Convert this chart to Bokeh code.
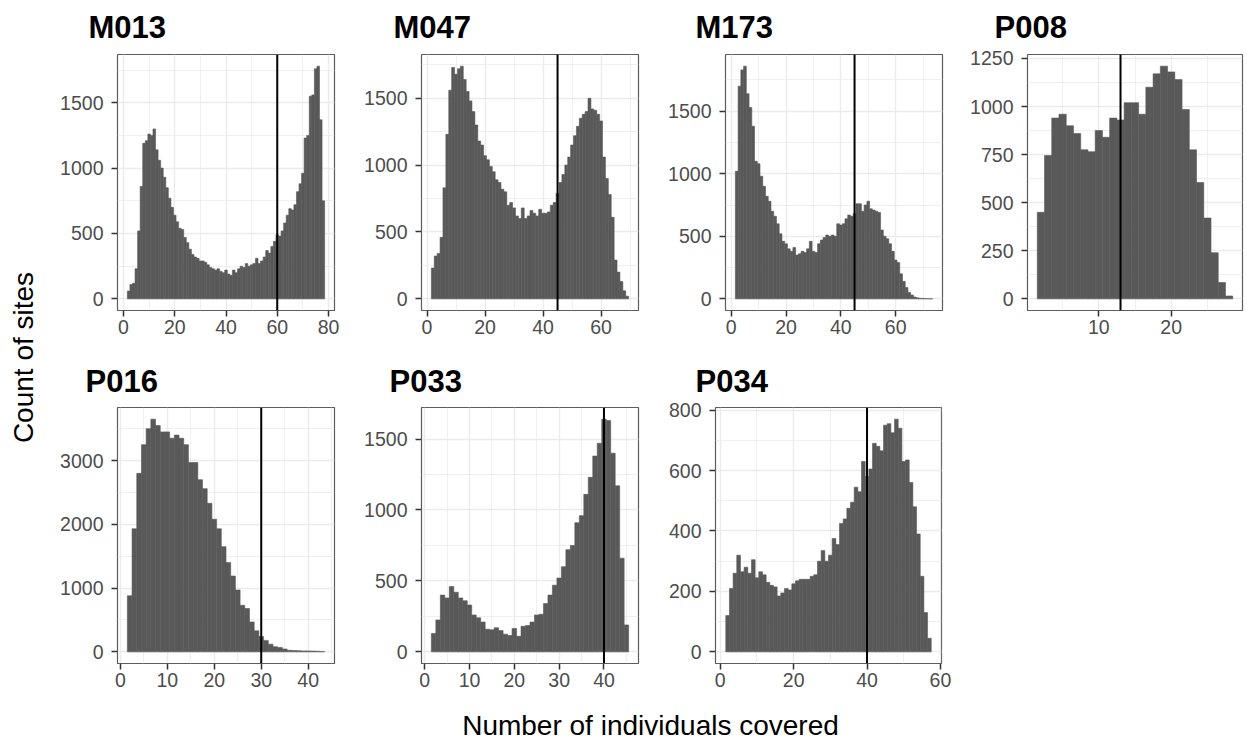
import math
from bokeh.plotting import figure
from bokeh.layouts import row, column
from bokeh.models import Range1d, FixedTicker, Span
from bokeh.embed import file_html
from bokeh.resources import INLINE
from bokeh.core.properties import value

# ---------------- data ----------------
names = ["M013", "M047", "M173", "P008", "P016", "P033", "P034"]
first_bin = [2, 2, 2, 2, 2, 2, 2]
cutoffs = [60, 45, 45, 13, 30, 40, 40]

M013 = [60, 110, 120, 230, 520, 860, 1190, 1210, 1260, 1250, 1300, 1140, 1060, 1000,
        930, 850, 770, 700, 640, 590, 540, 530, 470, 430, 380, 340, 320, 310, 290, 290,
        280, 260, 240, 230, 220, 230, 210, 200, 220, 190, 180, 220, 200, 230, 250, 240,
        270, 250, 260, 270, 310, 270, 290, 320, 370, 350, 400, 440, 490, 480, 520, 580,
        640, 690, 680, 720, 820, 880, 960, 1230, 1250, 1550, 1560, 1760, 1780, 1370, 750]
M047 = [230, 320, 340, 460, 830, 1230, 1560, 1730, 1680, 1720, 1740, 1640, 1550, 1480,
        1400, 1300, 1180, 1150, 1070, 1040, 990, 950, 890, 870, 820, 800, 700, 720, 680,
        620, 600, 680, 600, 620, 660, 640, 620, 670, 640, 640, 650, 700, 720, 790, 870,
        930, 1000, 1060, 1150, 1220, 1290, 1350, 1380, 1400, 1500, 1420, 1410, 1380, 1330,
        1060, 900, 780, 610, 290, 200, 130, 60, 20]
M173 = [1020, 1700, 1830, 1860, 1640, 1530, 1380, 1100, 1080, 980, 900, 820, 780, 700,
        660, 600, 520, 460, 440, 400, 380, 410, 350, 360, 380, 370, 400, 460, 380, 370,
        440, 470, 490, 510, 500, 510, 500, 600, 590, 600, 640, 670, 660, 680, 760, 760,
        700, 750, 780, 720, 710, 700, 690, 550, 500, 480, 440, 380, 310, 290, 200, 140,
        90, 50, 30, 15, 8, 4, 3, 2, 1, 1]
P008 = [450, 745, 940, 960, 900, 860, 775, 765, 875, 840, 940, 930, 1020, 1020, 960,
        1100, 1170, 1210, 1180, 1140, 985, 775, 605, 420, 240, 85, 15]
P016 = [880, 1930, 2800, 3250, 3500, 3650, 3550, 3450, 3450, 3350, 3400, 3350, 3250,
        2970, 2970, 2700, 2560, 2330, 2080, 1930, 1650, 1400, 1190, 970, 730, 680, 470,
        330, 240, 180, 120, 80, 70, 45, 25, 20, 18, 15, 15, 12, 10, 5]
P033 = [130, 225, 400, 380, 460, 420, 380, 360, 330, 260, 240, 210, 160, 155, 170, 150,
        125, 115, 165, 110, 180, 185, 210, 260, 265, 340, 400, 470, 520, 600, 720, 750,
        910, 960, 1110, 1230, 1380, 1470, 1640, 1630, 1400, 1170, 660, 190]
P034 = [120, 210, 260, 320, 265, 280, 260, 305, 245, 265, 255, 230, 220, 215, 185, 195,
        210, 205, 225, 235, 240, 240, 240, 250, 255, 300, 335, 300, 320, 375, 355, 425,
        440, 475, 495, 545, 530, 630, 580, 605, 690, 680, 665, 750, 755, 725, 770, 740,
        630, 635, 560, 480, 390, 250, 130, 45]
counts = [M013, M047, M173, P008, P016, P033, P034]

x_breaks = [[0, 20, 40, 60, 80], [0, 20, 40, 60], [0, 20, 40, 60], [10, 20],
            [0, 10, 20, 30, 40], [0, 10, 20, 30, 40], [0, 20, 40, 60]]
y_breaks = [[0, 500, 1000, 1500], [0, 500, 1000, 1500], [0, 500, 1000, 1500],
            [0, 250, 500, 750, 1000, 1250], [0, 1000, 2000, 3000],
            [0, 500, 1000, 1500], [0, 200, 400, 600, 800]]

x_title = "Number of individuals covered"
y_title = "Count of sites"

# ---------------- layout (pixels) ----------------
# (width, height, border_left, border_right, border_top, border_bottom,
#  title x offset from frame left, title standoff)
geom = [
    (304, 355, 59, 27, 54, 45, -29, 15),
    (304, 355, 58, 27, 54, 45, -28, 15),
    (302, 355, 58, 25, 54, 45, -30, 15),
    (280, 355, 60, 5, 54, 45, -33, 15),
    (304, 345, 59, 27, 52, 37, -32, 13),
    (304, 345, 58, 27, 52, 37, -32, 13),
    (302, 345, 47, 26, 52, 37, -20, 13),
]

FONT = "Liberation Sans"
BAR = "#595959"
GRID = "#EBEBEB"


def minor_of(b):
    step = b[1] - b[0]
    ext = [b[0] - step] + list(b) + [b[-1] + step]
    return [(a + c) / 2 for a, c in zip(ext[:-1], ext[1:])]


def panel(i):
    name, cnt, first, cut = names[i], counts[i], first_bin[i], cutoffs[i]
    w, h, bl, br, bt, bb, toff, tsd = geom[i]
    xs = [first + k for k in range(len(cnt))]
    lo = min(xs[0] - 0.5, cut)
    hi = max(xs[-1] + 0.5, cut)
    pad = 0.05 * (hi - lo)
    ymax = max(cnt)
    p = figure(width=w, height=h, output_backend="svg", toolbar_location=None,
               x_range=Range1d(lo - pad, hi + pad),
               y_range=Range1d(-0.05 * ymax, 1.05 * ymax),
               min_border_left=bl, min_border_right=br,
               min_border_top=bt, min_border_bottom=bb,
               title=name)
    p.vbar(x=xs, top=cnt, bottom=0, width=1, fill_color=BAR, line_color=BAR,
           line_width=0.6)
    p.add_layout(Span(location=cut, dimension="height", line_color="black",
                      line_width=2))

    p.xaxis.ticker = FixedTicker(ticks=x_breaks[i], minor_ticks=minor_of(x_breaks[i]))
    p.yaxis.ticker = FixedTicker(ticks=y_breaks[i], minor_ticks=minor_of(y_breaks[i]))
    for ax in (p.xaxis[0], p.yaxis[0]):
        ax.axis_line_color = None
        ax.major_tick_line_color = "#333333"
        ax.major_tick_line_width = 1.5
        ax.major_tick_out = 6
        ax.major_tick_in = 0
        ax.minor_tick_line_color = None
        ax.major_label_text_font = FONT
        ax.major_label_text_font_size = "19.5px"
        ax.major_label_text_color = "#4D4D4D"
    p.xaxis.major_label_standoff = 3
    p.yaxis.major_label_standoff = 8

    for g in (p.xgrid[0], p.ygrid[0]):
        g.grid_line_color = GRID
        g.grid_line_width = 1.4
        g.minor_grid_line_color = GRID
        g.minor_grid_line_width = 0.8

    p.outline_line_color = "#333333"
    p.outline_line_width = 1.2
    p.outline_line_alpha = 0.8

    p.title.text_font = FONT
    p.title.text_font_size = "31px"
    p.title.text_font_style = "bold"
    p.title.text_color = "black"
    p.title.align = "left"
    p.title.vertical_align = "top"
    p.title.offset = toff
    p.title.standoff = tsd
    return p


figs = [panel(i) for i in range(len(names))]

ylab = figure(width=57, height=700, output_backend="svg", toolbar_location=None,
              x_range=Range1d(0, 57), y_range=Range1d(0, 700), min_border=0,
              x_axis_type=None, y_axis_type=None)
ylab.outline_line_color = None
ylab.text(x=[23], y=[343], text=[y_title], angle=math.pi / 2, text_align="center",
          text_baseline="alphabetic", text_font=value(FONT), text_font_size="28px",
          text_color="black")

xlab = figure(width=1247, height=40, output_backend="svg", toolbar_location=None,
              x_range=Range1d(0, 1247), y_range=Range1d(0, 40), min_border=0,
              x_axis_type=None, y_axis_type=None)
xlab.outline_line_color = None
xlab.text(x=[650], y=[15], text=[x_title], text_align="center",
          text_baseline="alphabetic", text_font=value(FONT), text_font_size="28px",
          text_color="black")

grid = column(row(figs[0], figs[1], figs[2], figs[3]), row(figs[4], figs[5], figs[6]))
layout = column(row(ylab, grid), xlab)

open("out.html", "w").write(file_html(layout, INLINE))
